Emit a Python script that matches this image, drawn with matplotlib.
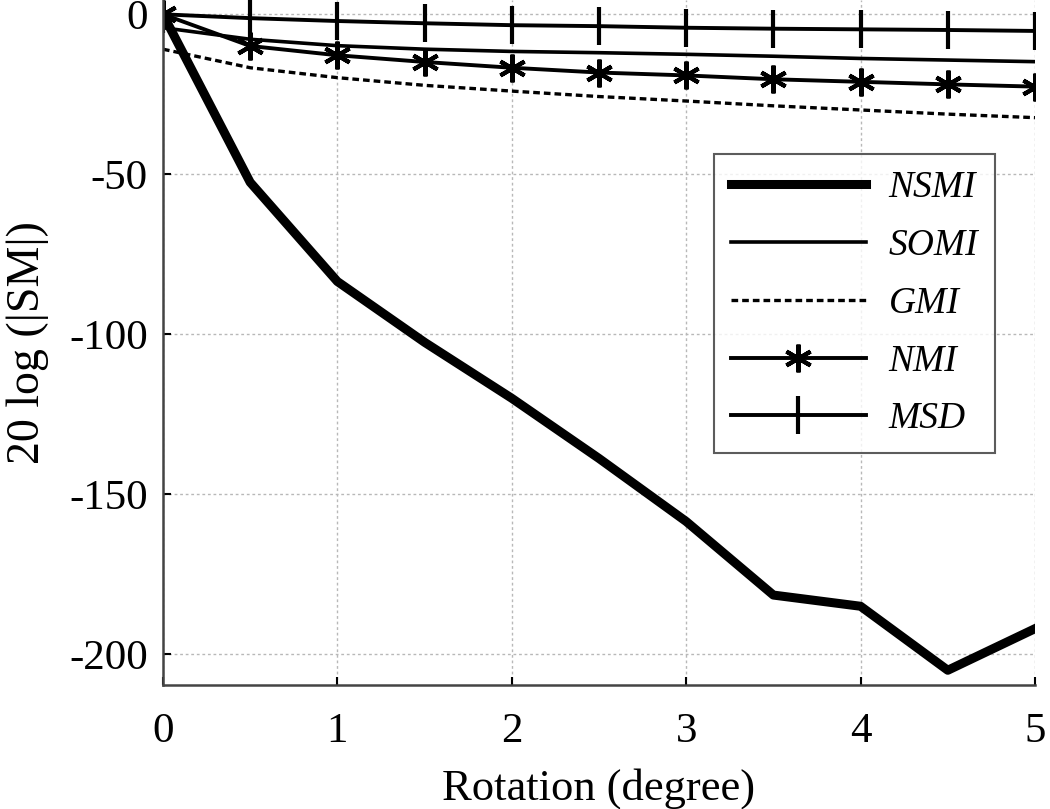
import matplotlib
matplotlib.use("Agg")
import matplotlib.pyplot as plt

plt.rcParams['font.family'] = ['Liberation Serif', 'DejaVu Serif']
plt.rcParams['axes.unicode_minus'] = False

# Data
rotation = [0, 0.5, 1, 1.5, 2, 2.5, 3, 3.5, 4, 4.5, 5]
nsmi = [0, -52.5, -83.5, -102.5, -120, -138.8, -158.5, -181.5, -185, -205, -192]
somi = [-4.2, -7.8, -9.8, -10.9, -11.6, -12.0, -12.5, -13.1, -13.8, -14.3, -14.8]
gmi = [-10.9, -16.7, -19.8, -22.2, -24.0, -25.7, -27.1, -28.6, -29.9, -31.2, -32.3]
nmi = [0, -9.9, -12.8, -14.9, -16.7, -18.2, -19.1, -20.3, -21.1, -21.9, -22.6]
msd = [0, -1.2, -2.1, -2.8, -3.4, -3.7, -4.2, -4.5, -4.7, -4.9, -5.2]

xticks = [0, 1, 2, 3, 4, 5]
yticks = [0, -50, -100, -150, -200]

fig = plt.figure(figsize=(10.5, 8.09), dpi=100)
ax = fig.add_axes([0.1552, 0.1533, 0.8305, 0.8467])

ax.plot(rotation, nsmi, color='black', lw=6.5, label='NSMI', solid_joinstyle='round')
ax.plot(rotation, somi, color='black', lw=2.6, label='SOMI')
ax.plot(rotation, gmi, color='black', lw=2.4, linestyle=(0, (2.0, 1.2)), label='GMI')
ax.plot(rotation, nmi, color='black', lw=2.8, marker=(6, 2, 0), ms=20, mew=3.0,
        label='NMI')
ax.plot(rotation, msd, color='black', lw=2.8, marker='|', ms=27, mew=3.0, label='MSD')

ax.set_xlim(0, 5)
ax.set_ylim(-209.6, 4.47)
ax.set_xticks(xticks)
ax.set_yticks(yticks)
ax.tick_params(direction='in', length=6, width=1.5, labelsize=31)
ax.tick_params(axis='x', pad=20)
ax.tick_params(axis='y', pad=11)

for s in ['top', 'right']:
    ax.spines[s].set_visible(False)
for s in ['left', 'bottom']:
    ax.spines[s].set_color('#444444')
    ax.spines[s].set_linewidth(1.8)

ax.grid(True, linestyle=(0, (2, 2)), color='#b8b8b8', lw=1.0)
ax.set_axisbelow(True)

ax.set_xlabel('Rotation (degree)', fontsize=32, labelpad=12)
ax.set_ylabel('20 log (|SM|)', fontsize=33, labelpad=14)

leg = ax.legend(loc='upper left', bbox_to_anchor=(0.632, 0.775),
                prop={'style': 'italic', 'size': 27, 'family': 'Liberation Serif'},
                frameon=True, fancybox=False, edgecolor='#333333',
                handlelength=3.6, handletextpad=0.6, labelspacing=0.62,
                borderpad=0.45, borderaxespad=0)
leg.get_frame().set_linewidth(1.5)

fig.savefig('out.png', dpi=100)
